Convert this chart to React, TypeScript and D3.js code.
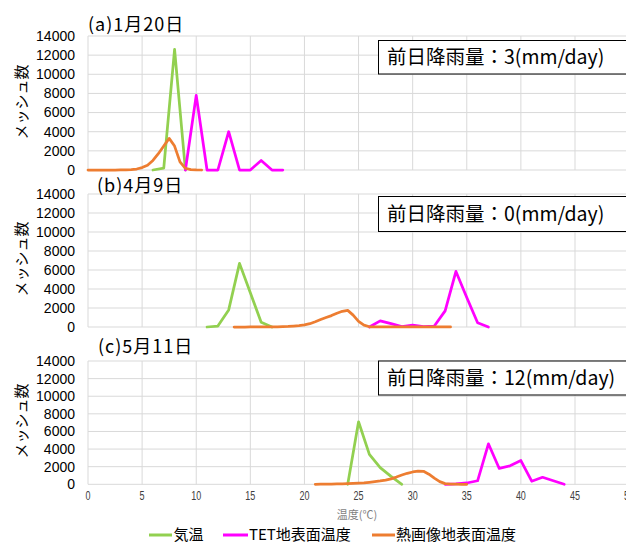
import React from 'react';
import * as d3 from 'd3';

// ---- data ----
const SERIES_NAMES = ['気温', 'TET地表面温度', '熱画像地表面温度'];
const SERIES_COLORS = ['#92D050', '#FF00FF', '#ED7D31'];
const PANEL_TITLES = ['(a)1月20日', '(b)4月9日', '(c)5月11日'];
const RAIN_MM = ['3', '0', '12'];
const X_TICKS = [0, 5, 10, 15, 20, 25, 30, 35, 40, 45, 50];
const Y_TICKS = [0, 2000, 4000, 6000, 8000, 10000, 12000, 14000];

// (a) 1月20日
const airTempA = [6, 7, 8, 9];
const airCountA = [0, 200, 12600, 0];
const tetTempA = [9, 10, 11, 12, 13, 14, 15, 16, 17, 18];
const tetCountA = [0, 7800, 0, 0, 4000, 0, 0, 1000, 0, 0];
const thermTempA = [0, 0.5, 1, 1.5, 2, 2.5, 3, 3.5, 4, 4.5, 5, 5.5, 6, 6.5, 7, 7.5, 8, 8.5, 9, 9.5, 10, 10.5];
const thermCountA = [0, 0, 0, 0, 0, 0, 5, 10, 40, 100, 250, 500, 1000, 1700, 2500, 3300, 2500, 850, 180, 40, 5, 0];

// (b) 4月9日
const airTempB = [11, 12, 13, 14, 15, 16, 17];
const airCountB = [0, 100, 1800, 6700, 3600, 500, 0];
const tetTempB = [26, 27, 28, 29, 30, 31, 32, 33, 34, 35, 36, 37];
const tetCountB = [0, 650, 350, 50, 200, 50, 100, 1700, 5850, 3100, 450, 0];
const thermTempB = [13.5, 14, 14.5, 15, 15.5, 16, 16.5, 17, 17.5, 18, 18.5, 19, 19.5, 20, 20.5, 21, 21.5, 22, 22.5, 23, 23.5, 24, 24.5, 25, 25.5, 26, 26.5, 27, 27.5, 28, 28.5, 29, 29.5, 30, 30.5, 31, 31.5, 32, 32.5, 33, 33.5];
const thermCountB = [0, 0, 0, 5, 5, 10, 10, 20, 20, 40, 60, 100, 150, 220, 350, 550, 780, 1000, 1200, 1450, 1650, 1750, 1250, 600, 200, 20, 5, 5, 5, 5, 5, 5, 5, 5, 5, 5, 5, 5, 5, 5, 5];

// (c) 5月11日
const airTempC = [24, 25, 26, 27, 28, 29];
const airCountC = [0, 7100, 3400, 1900, 900, 0];
const tetTempC = [33, 34, 35, 36, 37, 38, 39, 40, 41, 42, 43, 44];
const tetCountC = [0, 50, 150, 400, 4600, 1800, 2100, 2700, 350, 800, 400, 0];
const thermTempC = [21, 21.5, 22, 22.5, 23, 23.5, 24, 24.5, 25, 25.5, 26, 26.5, 27, 27.5, 28, 28.5, 29, 29.5, 30, 30.5, 31, 31.5, 32, 32.5, 33, 33.5, 34, 34.5, 35];
const thermCountC = [0, 10, 20, 30, 40, 50, 70, 100, 130, 170, 230, 300, 380, 480, 620, 820, 1050, 1250, 1400, 1500, 1480, 1150, 700, 300, 80, 20, 10, 0, 0];

const DATA = [
  [[airTempA, airCountA], [tetTempA, tetCountA], [thermTempA, thermCountA]],
  [[airTempB, airCountB], [tetTempB, tetCountB], [thermTempB, thermCountB]],
  [[airTempC, airCountC], [tetTempC, tetCountC], [thermTempC, thermCountC]],
];

// ---- layout ----
const W = 637;
const H = 545;
const CLIP_R = 626;
const LAYOUT = [
  { top: 36, bottom: 170, titleX: 88, titleY: 25, boxTop: 40.5, boxBottom: 74, yLabelY: 102 },
  { top: 194, bottom: 327, titleX: 97, titleY: 186, boxTop: 196.5, boxBottom: 231.5, yLabelY: 259 },
  { top: 361, bottom: 484.3, titleX: 98, titleY: 347, boxTop: 361, boxBottom: 395, yLabelY: 421 },
];
const JP = '"Noto Sans CJK JP", "Noto Sans", sans-serif';
const NUM = '"Liberation Sans", Arial, sans-serif';
const LEGEND_Y = 535;

export default function App() {
  const x = d3.scaleLinear().domain([0, 45]).range([88, 575]);

  return (
    <svg width={W} height={H} style={{ position: 'absolute', left: 0, top: 0, background: '#fff' }}>
      <defs>
        <clipPath id="clipR">
          <rect x={0} y={0} width={CLIP_R} height={H} />
        </clipPath>
      </defs>
      <rect x={0} y={0} width={W} height={H} fill="#fff" />
      <g clipPath="url(#clipR)">
        {LAYOUT.map((L, pi) => {
          const y = d3.scaleLinear().domain([0, 14000]).range([L.bottom, L.top]);
          const line = d3
            .line<[number, number]>()
            .x((d) => x(d[0]))
            .y((d) => y(d[1]));
          return (
            <g key={pi}>
              {Y_TICKS.map((t) => (
                <line key={'h' + t} x1={x(0)} x2={x(50)} y1={y(t)} y2={y(t)} stroke="#d9d9d9" strokeWidth={1} />
              ))}
              {X_TICKS.map((t) => (
                <line key={'v' + t} x1={x(t)} x2={x(t)} y1={y(0)} y2={y(14000)} stroke="#d9d9d9" strokeWidth={1} />
              ))}
              {Y_TICKS.map((t) => (
                <text key={'yl' + t} x={75} y={y(t)} dy="0.35em" textAnchor="end" fontFamily={NUM} fontSize={14} fill="#000">
                  {t}
                </text>
              ))}
              <text
                transform={`translate(22,${L.yLabelY}) rotate(-90)`}
                textAnchor="middle"
                dy="0.35em"
                fontFamily={JP}
                fontSize={15}
                fill="#000"
              >
                メッシュ数
              </text>
              <text x={L.titleX} y={L.titleY} dy="0.35em" fontFamily={JP} fontSize={18} letterSpacing={1} fill="#000">
                {PANEL_TITLES[pi]}
              </text>
              {DATA[pi].map(([temps, counts], si) => {
                const pts: [number, number][] = temps.map((t, i) => [t, counts[i]]);
                return (
                  <path
                    key={'s' + si}
                    d={line(pts) || ''}
                    fill="none"
                    stroke={SERIES_COLORS[si]}
                    strokeWidth={2.75}
                    strokeLinejoin="round"
                    strokeLinecap="round"
                  />
                );
              })}
              <rect
                x={378.5}
                y={L.boxTop}
                width={300}
                height={L.boxBottom - L.boxTop}
                fill="#fff"
                stroke="#000"
                strokeWidth={1}
              />
              <text x={387} y={(L.boxTop + L.boxBottom) / 2} dy="0.36em" fontFamily={JP} fontSize={19.5} fill="#000">
                {`前日降雨量：${RAIN_MM[pi]}(mm/day)`}
              </text>
            </g>
          );
        })}
        {X_TICKS.map((t) => (
          <text
            key={'xl' + t}
            x={x(t)}
            y={496}
            dy="0.35em"
            textAnchor="middle"
            fontFamily={NUM}
            fontSize={12}
            textLength={String(t).length * 5}
            lengthAdjust="spacingAndGlyphs"
            fill="#404040"
          >
            {t}
          </text>
        ))}
      </g>
      <text x={357} y={515} dy="0.35em" textAnchor="middle" fontFamily={JP} fontSize={11} fill="#7f7f7f">
        温度(℃)
      </text>
      {[
        [149, 172, 173.5],
        [223, 248, 249],
        [372, 395, 396],
      ].map(([x1, x2, tx], i) => (
        <g key={'lg' + i}>
          <line x1={x1} x2={x2} y1={LEGEND_Y} y2={LEGEND_Y} stroke={SERIES_COLORS[i]} strokeWidth={3} />
          <text x={tx} y={LEGEND_Y} dy="0.35em" fontFamily={JP} fontSize={15} fill="#000">
            {SERIES_NAMES[i]}
          </text>
        </g>
      ))}
    </svg>
  );
}
